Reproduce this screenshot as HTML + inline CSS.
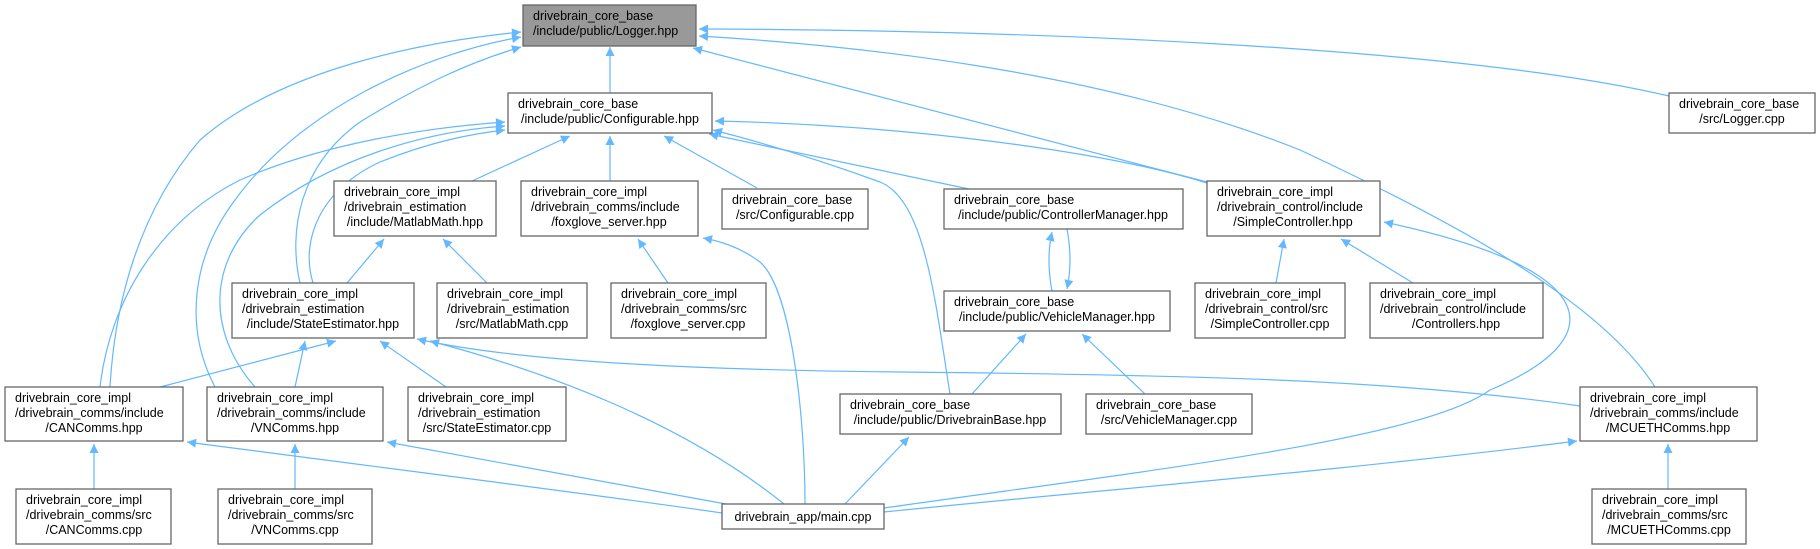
<!DOCTYPE html>
<html><head><meta charset="utf-8"><style>
html,body{margin:0;padding:0;background:#fff;}
svg{display:block;}
text{font-family:"Liberation Sans",Arial,sans-serif;font-size:12.5px;fill:#000;}
.n{fill:#fff;stroke:#666;stroke-width:1.3;}
.e{fill:none;stroke:#63b8ff;stroke-width:1.2;}
</style></head><body>
<svg width="1820" height="549" viewBox="0 0 1820 549" xmlns="http://www.w3.org/2000/svg">
<defs><marker id="a" viewBox="0 0 10 10" refX="10" refY="5" markerWidth="11" markerHeight="9" markerUnits="userSpaceOnUse" orient="auto"><path d="M0,0 L10,5 L0,10 z" fill="#63b8ff"/></marker></defs>
<g class="edges">
<path class="e" marker-end="url(#a)" d="M610,93 L610,47"/>
<path class="e" marker-end="url(#a)" d="M110,387 C115,300 140,210 200,140 C280,70 420,42 521,32"/>
<path class="e" marker-end="url(#a)" d="M215,387 C185,330 190,260 235,200 C300,110 420,55 521,37"/>
<path class="e" marker-end="url(#a)" d="M300,283 C288,230 300,165 360,122 C420,85 470,62 521,47"/>
<path class="e" marker-end="url(#a)" d="M1669,96 C1450,45 1000,30 699,29"/>
<path class="e" marker-end="url(#a)" d="M1207,182 L693,48"/>
<path class="e" marker-end="url(#a)" d="M1655,387 C1600,300 1450,220 1300,150 C1100,70 850,45 699,36"/>
<path class="e" marker-end="url(#a)" d="M472,181 L570,136"/>
<path class="e" marker-end="url(#a)" d="M610,181 L610,136"/>
<path class="e" marker-end="url(#a)" d="M757,188 L664,136"/>
<path class="e" marker-end="url(#a)" d="M969,189 L709,134"/>
<path class="e" marker-end="url(#a)" d="M1207,183 C1100,150 900,125 715,121"/>
<path class="e" marker-end="url(#a)" d="M950,394 C935,300 925,200 880,182 C820,160 760,142 713,130"/>
<path class="e" marker-end="url(#a)" d="M100,387 C110,300 160,220 240,180 C320,145 420,128 505,122"/>
<path class="e" marker-end="url(#a)" d="M255,387 C205,330 210,260 260,215 C330,160 420,132 505,126"/>
<path class="e" marker-end="url(#a)" d="M313,283 C300,240 320,190 380,162 C430,142 470,134 505,130"/>
<path class="e" marker-end="url(#a)" d="M347,283 L384,239"/>
<path class="e" marker-end="url(#a)" d="M487,283 L443,239"/>
<path class="e" marker-end="url(#a)" d="M668,283 L638,239"/>
<path class="e" marker-end="url(#a)" d="M805,504 C805,420 792,290 760,262 C740,247 720,241 703,238"/>
<path class="e" marker-end="url(#a)" d="M1052,291 C1048,270 1048,250 1052,232"/>
<path class="e" marker-end="url(#a)" d="M1067,229 C1071,250 1071,270 1067,289"/>
<path class="e" marker-end="url(#a)" d="M1276,283 L1284,239"/>
<path class="e" marker-end="url(#a)" d="M1413,283 L1341,239"/>
<path class="e" marker-end="url(#a)" d="M884,508 C1150,470 1420,440 1490,390 C1610,340 1610,270 1384,222"/>
<path class="e" marker-end="url(#a)" d="M972,394 L1026,334"/>
<path class="e" marker-end="url(#a)" d="M1145,394 L1082,334"/>
<path class="e" marker-end="url(#a)" d="M845,504 L909,437"/>
<path class="e" marker-end="url(#a)" d="M160,387 L336,341"/>
<path class="e" marker-end="url(#a)" d="M295,387 L305,341"/>
<path class="e" marker-end="url(#a)" d="M446,387 L380,341"/>
<path class="e" marker-end="url(#a)" d="M784,504 C680,420 540,370 430,341"/>
<path class="e" marker-end="url(#a)" d="M1580,406 C1400,380 1200,375 900,372 C700,370 520,362 417,339"/>
<path class="e" marker-end="url(#a)" d="M94,489 L94,444"/>
<path class="e" marker-end="url(#a)" d="M295,489 L295,444"/>
<path class="e" marker-end="url(#a)" d="M1668,489 L1668,444"/>
<path class="e" marker-end="url(#a)" d="M722,513 C600,495 400,470 187,442"/>
<path class="e" marker-end="url(#a)" d="M726,504 L387,442"/>
<path class="e" marker-end="url(#a)" d="M884,512 C1100,490 1350,470 1577,441"/>
</g>
<g class="nodes">
<rect x="523" y="5" width="173" height="41" fill="#999" stroke="#666" stroke-width="1.3"/>
<text x="533" y="20">drivebrain_core_base</text><text x="533" y="35">/include/public/Logger.hpp</text>

<rect class="n" x="508" y="93" width="204" height="40"/>
<text x="518" y="108">drivebrain_core_base</text><text x="610" y="123" text-anchor="middle">/include/public/Configurable.hpp</text>

<rect class="n" x="1669" y="93" width="146" height="40"/>
<text x="1679" y="108">drivebrain_core_base</text><text x="1742" y="123" text-anchor="middle">/src/Logger.cpp</text>

<rect class="n" x="334" y="181" width="162" height="55"/>
<text x="344" y="196">drivebrain_core_impl</text><text x="344" y="211">/drivebrain_estimation</text><text x="415" y="226" text-anchor="middle">/include/MatlabMath.hpp</text>

<rect class="n" x="521" y="181" width="177" height="55"/>
<text x="531" y="196">drivebrain_core_impl</text><text x="531" y="211">/drivebrain_comms/include</text><text x="609" y="226" text-anchor="middle">/foxglove_server.hpp</text>

<rect class="n" x="722" y="189" width="146" height="40"/>
<text x="732" y="204">drivebrain_core_base</text><text x="795" y="219" text-anchor="middle">/src/Configurable.cpp</text>

<rect class="n" x="944" y="189" width="239" height="40"/>
<text x="954" y="204">drivebrain_core_base</text><text x="1063" y="219" text-anchor="middle">/include/public/ControllerManager.hpp</text>

<rect class="n" x="1207" y="181" width="173" height="55"/>
<text x="1217" y="196">drivebrain_core_impl</text><text x="1217" y="211">/drivebrain_control/include</text><text x="1293" y="226" text-anchor="middle">/SimpleController.hpp</text>

<rect class="n" x="232" y="283" width="182" height="55"/>
<text x="242" y="298">drivebrain_core_impl</text><text x="242" y="313">/drivebrain_estimation</text><text x="323" y="328" text-anchor="middle">/include/StateEstimator.hpp</text>

<rect class="n" x="437" y="283" width="150" height="55"/>
<text x="447" y="298">drivebrain_core_impl</text><text x="447" y="313">/drivebrain_estimation</text><text x="512" y="328" text-anchor="middle">/src/MatlabMath.cpp</text>

<rect class="n" x="611" y="283" width="155" height="55"/>
<text x="621" y="298">drivebrain_core_impl</text><text x="621" y="313">/drivebrain_comms/src</text><text x="688" y="328" text-anchor="middle">/foxglove_server.cpp</text>

<rect class="n" x="944" y="291" width="226" height="40"/>
<text x="954" y="306">drivebrain_core_base</text><text x="1057" y="321" text-anchor="middle">/include/public/VehicleManager.hpp</text>

<rect class="n" x="1195" y="283" width="150" height="55"/>
<text x="1205" y="298">drivebrain_core_impl</text><text x="1205" y="313">/drivebrain_control/src</text><text x="1270" y="328" text-anchor="middle">/SimpleController.cpp</text>

<rect class="n" x="1370" y="283" width="173" height="55"/>
<text x="1380" y="298">drivebrain_core_impl</text><text x="1380" y="313">/drivebrain_control/include</text><text x="1456" y="328" text-anchor="middle">/Controllers.hpp</text>

<rect class="n" x="5" y="387" width="178" height="54"/>
<text x="15" y="402">drivebrain_core_impl</text><text x="15" y="417">/drivebrain_comms/include</text><text x="94" y="432" text-anchor="middle">/CANComms.hpp</text>

<rect class="n" x="207" y="387" width="176" height="54"/>
<text x="217" y="402">drivebrain_core_impl</text><text x="217" y="417">/drivebrain_comms/include</text><text x="295" y="432" text-anchor="middle">/VNComms.hpp</text>

<rect class="n" x="408" y="387" width="158" height="54"/>
<text x="418" y="402">drivebrain_core_impl</text><text x="418" y="417">/drivebrain_estimation</text><text x="487" y="432" text-anchor="middle">/src/StateEstimator.cpp</text>

<rect class="n" x="840" y="394" width="221" height="40"/>
<text x="850" y="409">drivebrain_core_base</text><text x="950" y="424" text-anchor="middle">/include/public/DrivebrainBase.hpp</text>

<rect class="n" x="1086" y="394" width="166" height="40"/>
<text x="1096" y="409">drivebrain_core_base</text><text x="1169" y="424" text-anchor="middle">/src/VehicleManager.cpp</text>

<rect class="n" x="1580" y="387" width="177" height="54"/>
<text x="1590" y="402">drivebrain_core_impl</text><text x="1590" y="417">/drivebrain_comms/include</text><text x="1668" y="432" text-anchor="middle">/MCUETHComms.hpp</text>

<rect class="n" x="16" y="489" width="155" height="55"/>
<text x="26" y="504">drivebrain_core_impl</text><text x="26" y="519">/drivebrain_comms/src</text><text x="94" y="534" text-anchor="middle">/CANComms.cpp</text>

<rect class="n" x="218" y="489" width="154" height="55"/>
<text x="228" y="504">drivebrain_core_impl</text><text x="228" y="519">/drivebrain_comms/src</text><text x="295" y="534" text-anchor="middle">/VNComms.cpp</text>

<rect class="n" x="722" y="504" width="162" height="25"/>
<text x="803" y="521" text-anchor="middle">drivebrain_app/main.cpp</text>

<rect class="n" x="1592" y="489" width="154" height="55"/>
<text x="1602" y="504">drivebrain_core_impl</text><text x="1602" y="519">/drivebrain_comms/src</text><text x="1669" y="534" text-anchor="middle">/MCUETHComms.cpp</text>
</g>
</svg>
</body></html>
